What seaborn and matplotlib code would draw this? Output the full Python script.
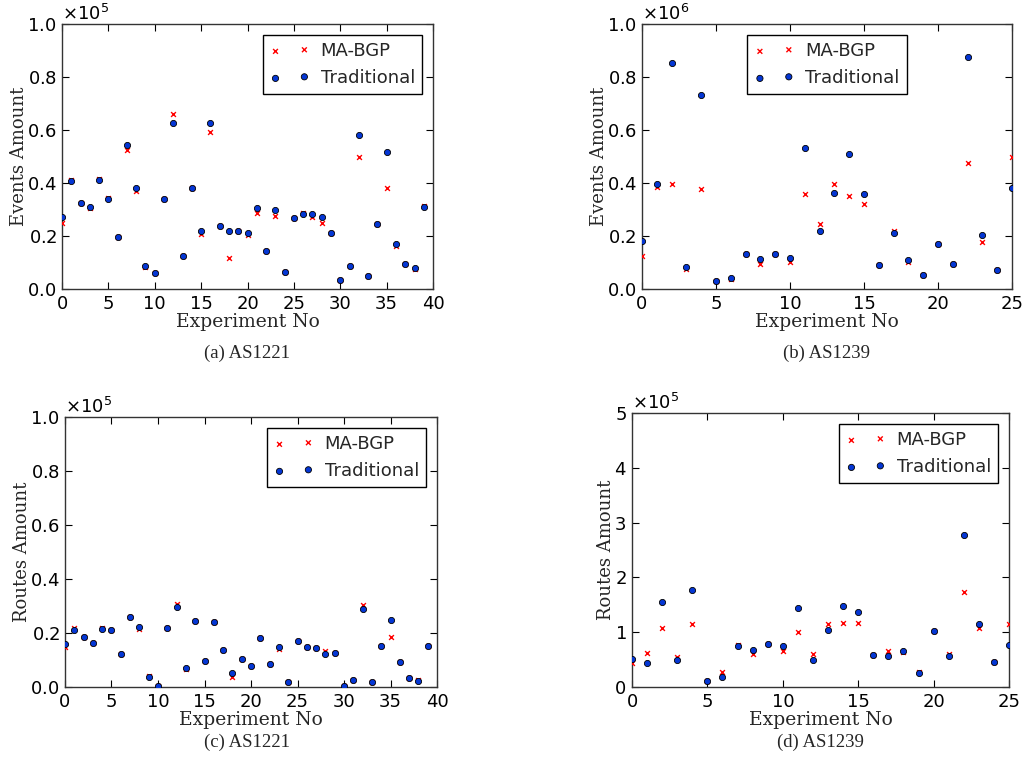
import numpy as np
import pandas as pd
import seaborn as sns
import matplotlib
matplotlib.use("Agg")
import matplotlib.pyplot as plt

# Dữ liệu: số sự kiện và số tuyến cho hai AS
exp_1221 = list(range(40))
exp_1239 = list(range(26))

events_1221_ma = [0.248, 0.41, 0.325, 0.304, 0.414, 0.342, 0.195, 0.526, 0.370, 0.085,
                  0.060, 0.340, 0.662, 0.124, 0.380, 0.209, 0.593, 0.239, 0.116, 0.218,
                  0.203, 0.288, 0.145, 0.277, 0.065, 0.267, 0.288, 0.273, 0.251, 0.210,
                  0.033, 0.088, 0.500, 0.050, 0.247, 0.380, 0.164, 0.093, 0.074, 0.315]
events_1221_trad = [0.273, 0.407, 0.324, 0.310, 0.411, 0.339, 0.195, 0.545, 0.382, 0.087,
                    0.060, 0.340, 0.626, 0.126, 0.380, 0.219, 0.628, 0.239, 0.219, 0.218,
                    0.210, 0.307, 0.145, 0.297, 0.065, 0.267, 0.282, 0.285, 0.270, 0.210,
                    0.033, 0.088, 0.581, 0.050, 0.247, 0.519, 0.169, 0.093, 0.081, 0.310]

events_1239_ma = [0.125, 0.384, 0.398, 0.077, 0.378, 0.030, 0.038, 0.134, 0.095, 0.134,
                  0.103, 0.357, 0.245, 0.397, 0.350, 0.320, 0.089, 0.219, 0.103, 0.053,
                  0.170, 0.096, 0.474, 0.178, 0.073, 0.497]
events_1239_trad = [0.183, 0.396, 0.854, 0.083, 0.733, 0.030, 0.041, 0.134, 0.115, 0.134,
                    0.117, 0.531, 0.218, 0.363, 0.508, 0.359, 0.089, 0.210, 0.111, 0.053,
                    0.170, 0.096, 0.874, 0.203, 0.073, 0.380]

routes_1221_ma = [0.147, 0.217, 0.187, 0.163, 0.218, 0.212, 0.124, 0.261, 0.214, 0.040,
                  0.004, 0.217, 0.308, 0.068, 0.244, 0.095, 0.241, 0.136, 0.037, 0.103,
                  0.078, 0.181, 0.084, 0.141, 0.019, 0.170, 0.147, 0.144, 0.134, 0.127,
                  0.004, 0.027, 0.304, 0.019, 0.153, 0.187, 0.092, 0.035, 0.027, 0.153]
routes_1221_trad = [0.160, 0.210, 0.187, 0.163, 0.215, 0.212, 0.124, 0.261, 0.223, 0.038,
                    0.004, 0.217, 0.295, 0.071, 0.244, 0.095, 0.241, 0.136, 0.053, 0.103,
                    0.078, 0.181, 0.084, 0.147, 0.019, 0.170, 0.147, 0.144, 0.123, 0.127,
                    0.004, 0.027, 0.290, 0.019, 0.153, 0.250, 0.092, 0.035, 0.024, 0.151]

routes_1239_ma = [0.433, 0.628, 1.073, 0.543, 1.152, 0.110, 0.274, 0.768, 0.604, 0.787,
                  0.659, 1.006, 0.610, 1.152, 1.165, 1.177, 0.579, 0.652, 0.640, 0.274,
                  1.024, 0.604, 1.726, 1.073, 0.457, 1.159]
routes_1239_trad = [0.518, 0.439, 1.543, 0.488, 1.768, 0.110, 0.183, 0.744, 0.683, 0.787,
                    0.744, 1.445, 0.500, 1.049, 1.482, 1.378, 0.579, 0.573, 0.659, 0.256,
                    1.024, 0.567, 2.774, 1.159, 0.457, 0.768]

panels = [
    # (x, ma, trad, scale, ymax, xmax, ylabel, caption, legend loc, rect, caption pos)
    (exp_1221, events_1221_ma, events_1221_trad, 1e5, 1.0, 40, 'Events Amount', '(a) AS1221',
     'upper right', [0.0605, 0.6202, 0.362, 0.3482], (0.241, 0.536)),
    (exp_1239, events_1239_ma, events_1239_trad, 1e6, 1.0, 25, 'Events Amount', '(b) AS1239',
     'upper center', [0.6263, 0.6202, 0.361, 0.3482], (0.806, 0.536)),
    (exp_1221, routes_1221_ma, routes_1221_trad, 1e5, 1.0, 40, 'Routes Amount', '(c) AS1221',
     'upper right', [0.0634, 0.0972, 0.363, 0.3548], (0.241, 0.025)),
    (exp_1239, routes_1239_ma, routes_1239_trad, 1e5, 5.0, 25, 'Routes Amount', '(d) AS1239',
     'upper right', [0.6166, 0.0972, 0.3678, 0.360], (0.800, 0.025)),
]

sns.set_style("ticks")
plt.rcParams['font.family'] = ['DejaVu Sans']

fig = plt.figure(figsize=(10.25, 7.61), dpi=100)

for x, ma, trad, scale, ymax, xmax, ylabel, caption, loc, rect, cpos in panels:
    ax = fig.add_axes(rect)
    df = pd.DataFrame({'No': x, 'MA-BGP': np.array(ma) * scale,
                       'Traditional': np.array(trad) * scale})
    sns.scatterplot(data=df, x='No', y='MA-BGP', marker='x', color='red', s=12,
                    linewidth=1.0, label='MA-BGP', ax=ax, zorder=3)
    sns.scatterplot(data=df, x='No', y='Traditional', marker='o', color='#0436d4',
                    edgecolor='black', s=20, linewidth=0.6, label='Traditional',
                    ax=ax, zorder=4)

    ax.set_xlim(0, xmax)
    ax.set_ylim(0, ymax * scale)
    ax.set_xticks(np.arange(0, xmax + 1, 5))
    if ymax == 1.0:
        ax.set_yticks(np.linspace(0, scale, 6))
    else:
        ax.set_yticks(np.arange(0, 6) * scale)
    ax.ticklabel_format(axis='y', style='sci', scilimits=(0, 0), useMathText=True)
    ax.yaxis.get_offset_text().set_fontsize(13)

    ax.tick_params(direction='in', top=True, right=True, length=5, width=0.8,
                   labelsize=13, pad=4, colors='black')
    for sp in ax.spines.values():
        sp.set_visible(True)
        sp.set_color('#333333')
        sp.set_linewidth(1.0)

    ax.set_xlabel('Experiment No', family='DejaVu Serif', fontsize=13.5, labelpad=0)
    ax.set_ylabel(ylabel, family='DejaVu Serif', fontsize=13, labelpad=-1)

    leg = ax.legend(loc=loc, scatterpoints=2, fontsize=13, frameon=True,
                    fancybox=False, edgecolor='black', framealpha=1,
                    handlelength=2.2, handletextpad=0.6, borderpad=0.4,
                    borderaxespad=0.6)
    leg.get_frame().set_linewidth(1.0)

    fig.text(cpos[0], cpos[1], caption, ha='center', va='center',
             family='Liberation Serif', fontsize=13.5)

fig.savefig('out.png', dpi=100)
